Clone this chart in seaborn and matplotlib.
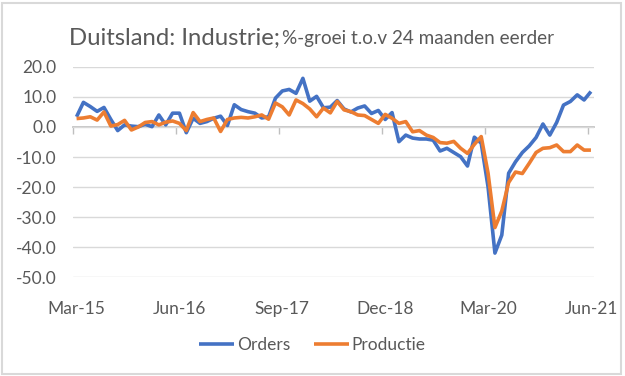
import numpy as np
import pandas as pd
import seaborn as sns
import matplotlib.pyplot as plt
from matplotlib.patches import Rectangle

# maandelijkse groei t.o.v. 24 maanden eerder, Mar-15 .. Jun-21
orders = [3.4, 8.2, 6.8, 5.2, 6.5, 2.5, -1.2, 0.7, 0.3, 0.1,
          0.9, 0.1, 4.0, 0.7, 4.6, 4.6, -1.9, 2.9, 1.2, 1.8,
          2.9, 3.6, 0.5, 7.4, 5.8, 5.1, 4.6, 3.0, 3.4, 9.6,
          12.0, 12.5, 11.2, 16.2, 8.6, 10.2, 6.4, 6.6, 8.8, 6.0,
          5.0, 6.3, 7.0, 4.5, 5.5, 2.5, 4.8, -4.9, -2.7, -3.7,
          -4.0, -4.0, -4.4, -8.0, -7.1, -8.5, -9.9, -13.0, -3.4, -5.4,
          -20.0, -42.0, -36.0, -15.4, -11.6, -8.5, -6.3, -3.5, 1.0, -2.7,
          1.5, 7.3, 8.5, 10.7, 9.0, 11.8]
productie = [2.8, 3.0, 3.4, 2.3, 5.0, 0.3, 0.8, 2.2, -1.0, 0.0,
             1.5, 1.8, 0.7, 1.6, 2.0, 1.2, -1.2, 4.8, 1.8, 2.5,
             3.0, -1.5, 2.5, 3.0, 3.2, 3.0, 3.4, 4.0, 2.6, 8.0,
             6.7, 4.0, 9.0, 7.8, 6.0, 3.4, 6.3, 4.7, 8.5, 5.7,
             5.1, 4.0, 3.8, 2.5, 1.2, 4.2, 2.9, 1.2, 1.8, -1.6,
             -1.2, -2.7, -3.5, -5.2, -5.4, -4.8, -7.1, -8.8, -5.8, -3.2,
             -15.4, -33.5, -28.0, -18.5, -15.0, -15.5, -12.1, -8.5, -7.1, -6.9,
             -6.0, -8.2, -8.2, -6.0, -7.7, -7.7]
tick_labels = ['Mar-15', 'Jun-16', 'Sep-17', 'Dec-18', 'Mar-20', 'Jun-21']
y_ticks = [20, 10, 0, -10, -20, -30, -40, -50]

sns.set_theme(style='white')
plt.rcParams['font.family'] = ['Lato', 'DejaVu Sans']
grey = '#595959'

df = pd.DataFrame({'maand': np.arange(len(orders)), 'Orders': orders, 'Productie': productie})
long = df.melt(id_vars='maand', var_name='reeks', value_name='groei')

fig = plt.figure(figsize=(6.25, 3.76), dpi=100)
ax = fig.add_axes([0.117, 0.263, 0.834, 0.559])
sns.lineplot(data=long, x='maand', y='groei', hue='reeks',
             palette=['#4472C4', '#ED7D31'], linewidth=2.6, ax=ax,
             solid_joinstyle='round', solid_capstyle='butt')

ax.set_xlim(-0.5, len(orders) - 0.5)
ax.set_ylim(min(y_ticks), max(y_ticks))
ax.set_yticks(y_ticks)
ax.set_yticklabels([f'{v:.1f}' for v in y_ticks])
tick_pos = np.arange(0, len(orders), 15)
ax.set_xticks(tick_pos)
ax.set_xticklabels(tick_labels)
ax.tick_params(axis='x', length=0, pad=17, labelsize=12.5, labelcolor=grey)
ax.tick_params(axis='y', length=0, pad=12, labelsize=12.5, labelcolor=grey)
ax.set_xlabel('')
ax.set_ylabel('')
for s in ax.spines.values():
    s.set_visible(False)
ax.yaxis.grid(True, color='#d9d9d9', linewidth=1)
ax.set_axisbelow(True)

# horizontale as op nul met streepjes
sec = ax.secondary_xaxis(0, transform=ax.transData)
sec.set_xticks(tick_pos - 0.5)
sec.set_xticklabels([])
sec.spines['bottom'].set_color('#bfbfbf')
sec.tick_params(axis='x', length=5, width=1, color='#bfbfbf', direction='out')

handles, labels = ax.get_legend_handles_labels()
ax.legend(handles, labels, loc='center', bbox_to_anchor=(0.5, 0.083),
          bbox_transform=fig.transFigure, ncol=2, frameon=False,
          fontsize=12.5, labelcolor=grey, handlelength=2.0,
          handletextpad=0.15, columnspacing=1.4)

fig.text(0.448, 0.882, 'Duitsland: Industrie;', ha='right', va='baseline',
         fontsize=17.2, color=grey)
fig.text(0.451, 0.882, '%-groei t.o.v 24 maanden eerder', ha='left',
         va='baseline', fontsize=13.6, color=grey)

fig.patches.append(Rectangle((0.003, 0.006), 0.99, 0.986, transform=fig.transFigure,
                             fill=False, edgecolor='#d9d9d9', linewidth=1.5))

fig.savefig('out.png', dpi=100)
